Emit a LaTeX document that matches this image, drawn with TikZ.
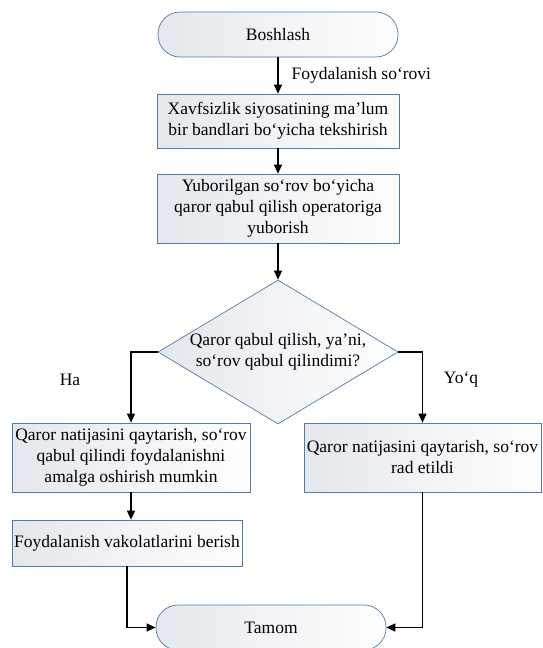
\documentclass[tikz,border=0pt]{standalone}
\usepackage{fontspec}
\setmainfont{Liberation Serif}
\usetikzlibrary{shapes.geometric,arrows.meta}
\definecolor{bordc}{HTML}{4F7BAA}
\definecolor{shadec}{HTML}{E4E7ED}
\tikzset{
  base/.style={draw=bordc, line width=0.7pt, left color=shadec, right color=white, align=center,
    font=\fontsize{17.5}{21}\selectfont, inner sep=2pt},
  procbox/.style={base, rectangle, minimum height=#1},
  termbox/.style={base, rectangle, rounded corners=22pt, minimum width=#1, minimum height=45pt},
  decbox/.style={base, diamond, minimum width=240pt, minimum height=144pt, inner sep=0pt, aspect=1.67},
  arr/.style={line width=1.3pt, -{Triangle[length=9pt,width=8pt]}},
  lbl/.style={font=\fontsize{17.5}{21}\selectfont}
}
\begin{document}
\begin{tikzpicture}[x=1pt,y=-1pt]
\useasboundingbox (0,0) rectangle (542,648);
\node[termbox=240pt] (start) at (278,34.5) {Boshlash};
\node[procbox=54pt, minimum width=242pt] (b1) at (278,121) {Xavfsizlik siyosatining ma’lum\\bir bandlari bo‘yicha tekshirish};
\node[procbox=69pt, minimum width=242pt] (b2) at (278,208.5) {Yuborilgan so‘rov bo‘yicha\\qaror qabul qilish operatoriga\\yuborish};
\node[decbox] (dia) at (278,352) {Qaror qabul qilish, ya’ni,\\so‘rov qabul qilindimi?};
\node[procbox=69pt, minimum width=238pt] (b3) at (131,457.5) {Qaror natijasini qaytarish, so‘rov\\qabul qilindi foydalanishni\\amalga oshirish mumkin};
\node[procbox=46pt, minimum width=230pt] (b4) at (127,543) {Foydalanish vakolatlarini berish};
\node[procbox=69pt, minimum width=237pt] (b5) at (422.5,457.5) {Qaror natijasini qaytarish, so‘rov\\rad etildi};
\node[termbox=230pt] (end) at (271,627.5) {Tamom};
\node[lbl, anchor=west] (l1) at (288,75) {Foydalanish so‘rovi};
\node[lbl] (lha) at (70,380) {Ha};
\node[lbl] (lyoq) at (461,380) {Yo‘q};
\draw[arr] (start.south) -- (b1.north);
\draw[arr] (b1.south) -- (b2.north);
\draw[arr] (b2.south) -- (dia.north);
\draw[arr] (dia.west) -| (b3.north);
\draw[arr] (dia.east) -| (b5.north);
\draw[arr] (b3.south) -- (b3.south |- b4.north);
\draw[arr] (b4.south) |- (end.west);
\draw[arr] (b5.south) |- (end.east);
\end{tikzpicture}
\end{document}
